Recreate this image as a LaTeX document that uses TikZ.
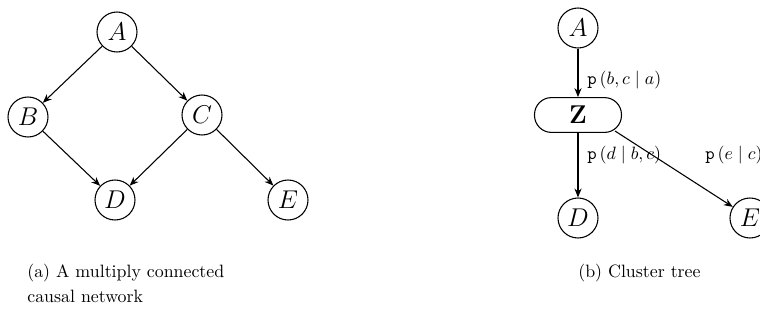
\documentclass[tikz,border=0pt]{standalone}
\usetikzlibrary{arrows.meta}
\begin{document}
\begin{tikzpicture}[x=0.56pt,y=-0.56pt,
  var/.style={draw,circle,line width=0.6pt,minimum size=22.4pt,inner sep=0pt,font=\Large},
  clus/.style={draw,rounded corners=9.5pt,line width=0.6pt,minimum width=48.7pt,minimum height=19.5pt,inner sep=0pt,font=\Large\bfseries},
  conn/.style={-{Stealth[length=5pt,width=4pt]},line width=0.6pt},
  lab/.style={font=\normalsize,inner sep=0pt,anchor=west},
  capt/.style={font=\normalsize,inner sep=0pt,anchor=north west,align=left}]
\useasboundingbox (0,0) rectangle (760,320);
% (a)
\node[var] (a) at (117,32) {$A$};
\node[var] (b) at (28,117) {$B$};
\node[var] (c) at (202,115) {$C$};
\node[var] (d) at (115,200) {$D$};
\node[var] (e) at (288,200) {$E$};
\draw[conn] (a) -- (b);
\draw[conn] (a) -- (c);
\draw[conn] (b) -- (d);
\draw[conn] (c) -- (d);
\draw[conn] (c) -- (e);
% (b)
\node[var] (a2) at (578,28) {$A$};
\node[clus] (z) at (578,115) {Z};
\node[var] (d2) at (578,218) {$D$};
\node[var] (e2) at (750,218) {$E$};
\coordinate (zse) at (615,131);
\draw[conn] (a2) -- (z);
\draw[conn] (z) -- (d2);
\draw[conn] (zse) -- (e2);
\node[lab] (l1) at (587,80) {$\texttt{p}\,(b,c\mid a)$};
\node[lab] (l2) at (587,155) {$\texttt{p}\,(d\mid b,c)$};
\node[lab] (l3) at (705,155) {$\texttt{p}\,(e\mid c)$};
% captions
\node[capt] (ca) at (27,264) {(a) A multiply connected\\[2pt]causal network};
\node[capt] (cb) at (578,264) {(b) Cluster tree};
\end{tikzpicture}
\end{document}
